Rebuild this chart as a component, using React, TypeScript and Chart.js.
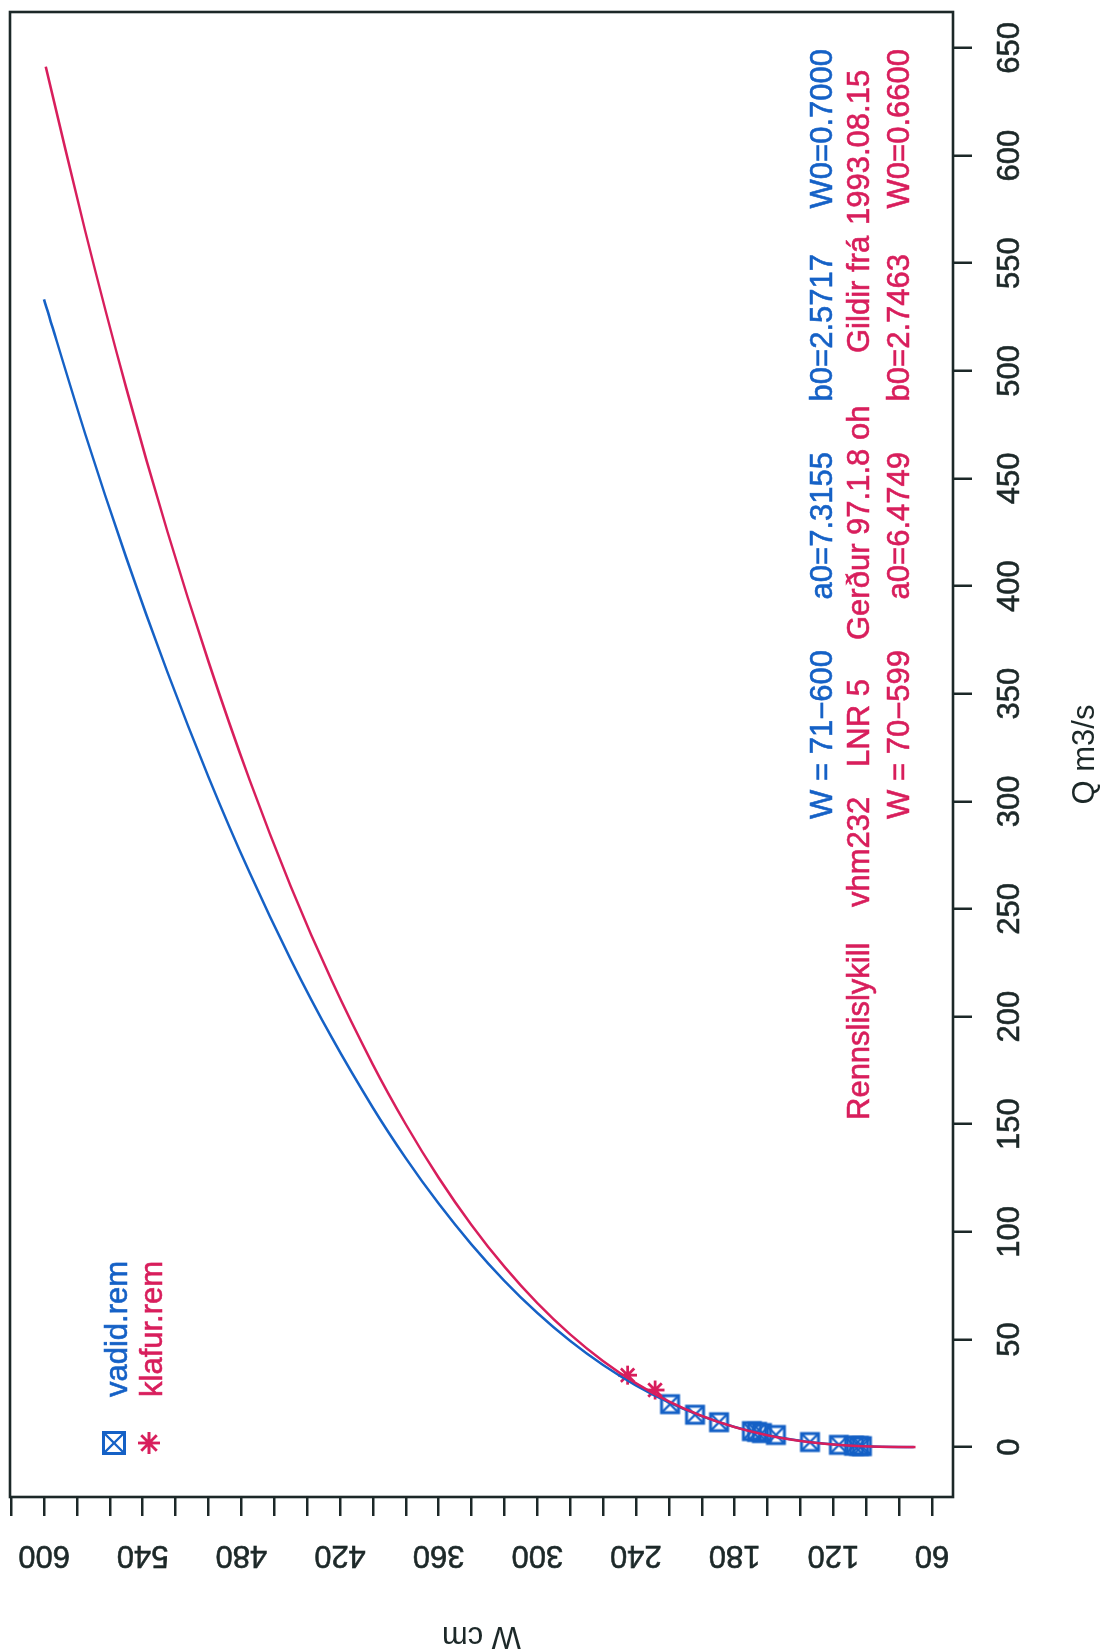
import React, { useEffect, useRef } from 'react';
import { Chart, registerables } from 'chart.js';

Chart.register(...registerables);

// ---------- data ----------
const Q_TICKS = [0, 50, 100, 150, 200, 250, 300, 350, 400, 450, 500, 550, 600, 650];
const W_TICKS = [60, 80, 100, 120, 140, 160, 180, 200, 220, 240, 260, 280, 300, 320, 340, 360, 380, 400, 420, 440, 460, 480, 500, 520, 540, 560, 580, 600, 620];
const W_LABELS = [60, 120, 180, 240, 300, 360, 420, 480, 540, 600];

// rating curve (W cm -> Q m3/s)
const BLUE_CURVE_W = [71, 72, 75, 80, 90, 100, 110, 120, 130, 140, 150, 160, 180, 200, 220, 240, 260, 280, 300, 320, 340, 360, 380, 400, 425, 450, 475, 500, 525, 550, 575, 600];
const BLUE_CURVE_Q = [0.00005, 0.0003, 0.0033, 0.0196, 0.117, 0.331, 0.693, 1.231, 1.966, 2.923, 4.121, 5.58, 9.348, 14.364, 20.754, 28.634, 38.117, 49.31, 62.3, 77.2, 94.11, 113.08, 134.24, 157.66, 190.2, 226.6, 266.9, 311.4, 360.1, 413.2, 470.8, 533.2];
const RED_CURVE_W = [70, 72, 75, 80, 90, 100, 110, 120, 130, 140, 150, 160, 180, 200, 220, 240, 260, 280, 300, 320, 340, 360, 380, 400, 425, 450, 475, 500, 525, 550, 575, 599];
const RED_CURVE_Q = [0.00094, 0.00285, 0.0087, 0.0293, 0.1285, 0.3346, 0.679, 1.192, 1.901, 2.832, 4.011, 5.463, 9.279, 14.465, 21.194, 29.64, 39.958, 52.32, 66.87, 83.76, 103.15, 125.15, 149.95, 177.67, 216.61, 260.6, 309.9, 364.9, 425.4, 492.0, 565.1, 641.3];

// measurements
const VADID_W = [219.3, 204.1, 189.5, 169.5, 166.4, 163.4, 154.9, 134.2, 116.6, 107.4, 104.4, 102.6];
const VADID_Q = [19.9, 15.0, 11.5, 7.4, 7.0, 6.5, 5.6, 2.3, 1.0, 0.6, 0.5, 0.4];
const KLAFUR_W = [245.1, 228.4];
const KLAFUR_Q = [33.4, 26.5];

const BLUE_INFO = ['W = 71\u2212600', 'a0=7.3155', 'b0=2.5717', 'W0=0.7000'];
const RED_INFO = ['W = 70\u2212599', 'a0=6.4749', 'b0=2.7463', 'W0=0.6600'];
const HEADER = ['Rennslislykill', 'vhm232', 'LNR 5', 'Ger\u00f0ur 97.1.8 oh', 'Gildir fr\u00e1', '1993.08.15'];
const LEGEND_LABELS = ['vadid.rem', 'klafur.rem'];

// ---------- styles ----------
const BLUE = '#1561C6';
const RED = '#D81E5C';
const INK = '#1c2828';
const FONT = '"Liberation Sans", Arial, Helvetica, sans-serif';
const FS = 31;
const CW = 1652;
const CH = 1115;

function drawSquareX(ctx: CanvasRenderingContext2D, cx: number, cy: number, size: number, lw: number, color: string) {
  const h = size / 2;
  ctx.save();
  ctx.strokeStyle = color;
  ctx.lineWidth = lw;
  ctx.strokeRect(cx - h, cy - h, size, size);
  ctx.lineWidth = lw * 0.8;
  ctx.beginPath();
  ctx.moveTo(cx - h, cy - h);
  ctx.lineTo(cx + h, cy + h);
  ctx.moveTo(cx + h, cy - h);
  ctx.lineTo(cx - h, cy + h);
  ctx.stroke();
  ctx.restore();
}

function drawStar(ctx: CanvasRenderingContext2D, cx: number, cy: number, r: number, lw: number, color: string) {
  ctx.save();
  ctx.strokeStyle = color;
  ctx.lineWidth = lw;
  ctx.beginPath();
  ctx.moveTo(cx - r, cy); ctx.lineTo(cx + r, cy);
  ctx.moveTo(cx, cy - r); ctx.lineTo(cx, cy + r);
  const d = r * Math.SQRT1_2;
  ctx.moveTo(cx - d, cy - d); ctx.lineTo(cx + d, cy + d);
  ctx.moveTo(cx + d, cy - d); ctx.lineTo(cx - d, cy + d);
  ctx.stroke();
  ctx.restore();
}

function makeSquareImage(size: number, lw: number, color: string) {
  const S = Math.ceil(size + lw * 2);
  const c = document.createElement('canvas');
  c.width = S;
  c.height = S;
  const ctx = c.getContext('2d')!;
  drawSquareX(ctx, S / 2, S / 2, size, lw, color);
  return c;
}

const toXY = (ws: number[], qs: number[]) => ws.map((w, i) => ({ x: qs[i], y: w }));

const annotations = {
  id: 'rAnnotations',
  beforeDatasetsDraw(chart: any) {
    const { ctx, chartArea: a } = chart;
    ctx.save();
    ctx.strokeStyle = INK;
    ctx.lineWidth = 2.6;
    ctx.strokeRect(a.left, a.top, a.right - a.left, a.bottom - a.top);
    ctx.restore();
  },
  afterDraw(chart: any) {
    const { ctx } = chart;
    ctx.save();
    ctx.font = `${FS}px ${FONT}`;
    ctx.textBaseline = 'alphabetic';
    ctx.lineWidth = 0.6;
    const put = (t: string, x: number, y: number, c: string) => {
      ctx.fillStyle = c;
      ctx.strokeStyle = c;
      ctx.fillText(t, x, y);
      ctx.strokeText(t, x, y);
    };
    // parameter lines (right aligned columns)
    const colEnds = [1002, 1200, 1398, 1603];
    ctx.textAlign = 'right';
    BLUE_INFO.forEach((t, i) => put(t, colEnds[i], 832, BLUE));
    RED_INFO.forEach((t, i) => put(t, colEnds[i], 909, RED));
    // header line
    const starts = [532, 745, 885, 1012, 1299, 1427];
    ctx.textAlign = 'left';
    HEADER.forEach((t, i) => put(t, starts[i], 869, RED));
    // legend
    drawSquareX(ctx, 209, 114, 21, 3, BLUE);
    drawStar(ctx, 209, 149, 11, 2.8, RED);
    put(LEGEND_LABELS[0], 255, 127, BLUE);
    put(LEGEND_LABELS[1], 255, 162, RED);
    ctx.restore();
  },
};

export default function App() {
  const ref = useRef<HTMLCanvasElement>(null);
  useEffect(() => {
    document.body.style.margin = '0';
    const canvas = ref.current!;
    const sqImg = makeSquareImage(17, 3, BLUE);
    const tickFont = { family: FONT, size: FS, lineHeight: 1.2 };
    const chart = new Chart(canvas, {
      type: 'scatter',
      data: {
        datasets: [
          {
            label: LEGEND_LABELS[0],
            data: toXY(VADID_W, VADID_Q),
            pointStyle: sqImg as any,
            pointRadius: 9,
            showLine: false,
            order: 4,
          },
          {
            label: LEGEND_LABELS[1],
            data: toXY(KLAFUR_W, KLAFUR_Q),
            pointStyle: 'star',
            pointRadius: 9.5,
            pointBorderColor: RED,
            pointBackgroundColor: RED,
            pointBorderWidth: 2.8,
            showLine: false,
            order: 3,
          },
          {
            label: 'vadid curve',
            data: toXY(BLUE_CURVE_W, BLUE_CURVE_Q),
            showLine: true,
            borderColor: BLUE,
            borderWidth: 2.5,
            pointRadius: 0,
            tension: 0.3,
            order: 2,
          },
          {
            label: 'klafur curve',
            data: toXY(RED_CURVE_W, RED_CURVE_Q),
            showLine: true,
            borderColor: RED,
            borderWidth: 2.5,
            pointRadius: 0,
            tension: 0.3,
            order: 1,
          },
        ],
      },
      options: {
        responsive: false,
        animation: false,
        devicePixelRatio: 1,
        layout: { padding: { left: 0, right: 12, top: 10, bottom: 0 }, autoPadding: false },
        plugins: { legend: { display: false }, tooltip: { enabled: false } },
        events: [],
        scales: {
          x: {
            type: 'linear',
            position: 'bottom',
            min: -23.2,
            max: 666.7,
            afterBuildTicks: (s: any) => { s.ticks = Q_TICKS.map((v) => ({ value: v })); },
            afterFit: (s: any) => { s.height = 162; s.paddingLeft = 0; s.paddingRight = 0; s.paddingTop = 0; s.paddingBottom = 0; },
            ticks: {
              autoSkip: false,
              maxRotation: 0,
              minRotation: 0,
              padding: 20,
              color: INK,
              font: tickFont,
              textStrokeColor: INK,
              textStrokeWidth: 0.6,
              callback: (v: any) => String(v),
            },
            grid: { display: true, drawOnChartArea: false, drawTicks: true, tickLength: 19, color: INK, lineWidth: 2.5 },
            border: { display: false },
            title: { display: true, text: 'Q m3/s', color: INK, font: { family: FONT, size: FS, lineHeight: 1 }, padding: { top: 0, bottom: 14.5 } },
          },
          y: {
            type: 'linear',
            position: 'left',
            min: 47.2,
            max: 620.7,
            afterBuildTicks: (s: any) => { s.ticks = W_TICKS.map((v) => ({ value: v })); },
            afterFit: (s: any) => { s.width = 155; s.paddingLeft = 0; s.paddingRight = 0; s.paddingTop = 0; s.paddingBottom = 0; },
            ticks: {
              autoSkip: false,
              minRotation: 90,
              maxRotation: 90,
              crossAlign: 'center',
              padding: 13,
              color: INK,
              font: tickFont,
              textStrokeColor: INK,
              textStrokeWidth: 0.6,
              callback: (v: any) => (W_LABELS.includes(Number(v)) ? String(v) : ''),
            },
            grid: { display: true, drawOnChartArea: false, drawTicks: true, tickLength: 19, color: INK, lineWidth: 2.5 },
            border: { display: false },
            title: { display: true, text: 'W cm', color: INK, font: { family: FONT, size: FS, lineHeight: 1 }, padding: { top: 0.5, bottom: 0 } },
          },
        },
      } as any,
      plugins: [annotations],
    });
    return () => chart.destroy();
  }, []);

  return (
    <div style={{ position: 'absolute', left: 0, top: 0, width: 1115, height: 1652, overflow: 'hidden', background: '#ffffff' }}>
      <div
        style={{
          position: 'absolute',
          left: 0,
          top: 0,
          width: CW,
          height: CH,
          transformOrigin: '0 0',
          transform: `translate(0px, ${CW}px) rotate(-90deg)`,
        }}
      >
        <canvas ref={ref} width={CW} height={CH} style={{ width: CW, height: CH, display: 'block' }} />
      </div>
    </div>
  );
}
